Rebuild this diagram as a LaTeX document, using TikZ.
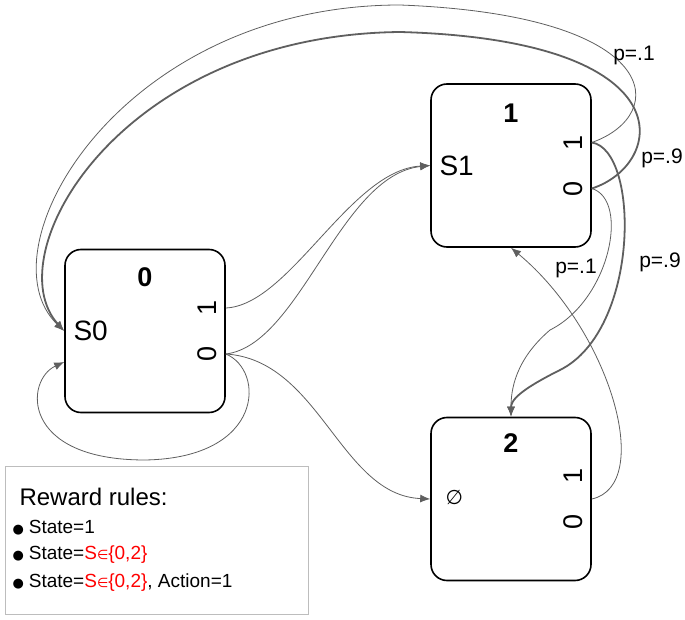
\documentclass[tikz,border=0pt]{standalone}
\usepackage{fontspec}
\setmainfont{Liberation Sans}
\newfontfamily\symfont{DejaVu Sans}
\usetikzlibrary{positioning,arrows.meta}
\definecolor{edgeGray}{HTML}{5F5F5F}
\definecolor{boxGray}{HTML}{BDBDBD}
\tikzset{
  statebox/.style={draw, line width=1.6pt, rounded corners=16pt,
                   minimum width=160pt, minimum height=163pt},
  stnum/.style={font=\fontsize{27}{30}\selectfont\bfseries},
  stname/.style={font=\fontsize{28}{30}\selectfont},
  portlbl/.style={rotate=90, font=\fontsize{27}{30}\selectfont},
  plbl/.style={font=\fontsize{21}{23}\selectfont},
  rule/.style={anchor=west, font=\fontsize{19}{21}\selectfont},
  trans/.style={edgeGray, line width=0.8pt, -{Latex[length=10pt,width=8pt]}},
  transthick/.style={trans, line width=1.8pt},
}
\newcommand{\memb}{{\symfont\fontsize{13}{15}\selectfont ∈}}
\newcommand{\rbul}{{\symfont\fontsize{13}{15}\selectfont ●}\hspace{5pt}}
\begin{document}
\begin{tikzpicture}[x=1pt, y=-1pt]
\useasboundingbox (0,0) rectangle (685,620);
%% States
\node[statebox] (b0) at (145,331) {};
\node[statebox] (b1) at (511,165.5) {};
\node[statebox] (b2) at (511,499) {};
\node[stnum] at (145,277) {0};
\node[stnum] at (511,113) {1};
\node[stnum] at (511,443) {2};
\node[stname, anchor=west] (s0) at (70,331) {S0};
\node[stname, anchor=west] (s1) at (436,166) {S1};
\node[stname, anchor=west] at (442,497) {{\symfont\fontsize{20}{22}\selectfont ∅}};
%% Ports
\foreach \b in {b0,b1,b2}{
  \coordinate (\b p1) at ([yshift=23pt]\b.east);
  \coordinate (\b p0) at ([yshift=-23pt]\b.east);
  \node[portlbl] at ([xshift=-19pt]\b p1) {1};
  \node[portlbl] at ([xshift=-19pt]\b p0) {0};
}
\coordinate (b0loop) at ([yshift=-31pt]b0.west);
%% Transitions
\draw[trans] (b0p1) .. controls (290,305) and (350,170) .. (b1.west);
\draw[trans] (b0p0) .. controls (300,345) and (340,175) .. (b1.west);
\draw[trans] (b0p0) .. controls (265,370) and (265,458) .. (145,460)
             .. controls (20,460) and (25,380) .. (b0loop);
\draw[trans] (b0p0) .. controls (320,360) and (340,495) .. (b2.west);
\draw[trans] (b1p1) .. controls (670,115) and (665,15) .. (400,5)
             .. controls (120,5) and (-20,250) .. (b0.west);
\draw[transthick] (b1p0) .. controls (665,165) and (690,40) .. (400,32)
             .. controls (120,35) and (-5,255) .. (b0.west);
\draw[transthick] (b1p1) .. controls (640,150) and (640,330) .. (560,370)
             .. controls (520,390) and (511,400) .. (b2.north);
\draw[trans] (b1p0) .. controls (630,200) and (610,300) .. (550,330)
             .. controls (515,360) and (511,390) .. (b2.north);
\draw[trans] (b2.east) .. controls (655,485) and (610,330) .. (b1.south);
\node[plbl] at (634,55) {p=.1};
\node[plbl] at (662,158) {p=.9};
\node[plbl] at (576,268) {p=.1};
\node[plbl] at (660,262) {p=.9};
%% Legend
\node[draw=boxGray, line width=0.8pt, anchor=north west, minimum width=303pt,
      minimum height=148pt, inner sep=0pt] (legend) at (5,466) {};
\node[anchor=west, font=\fontsize{24}{26}\selectfont] (rtitle) at (16,497) {Reward rules:};
\node[rule] (r1) at (9,528) {\rbul State=1};
\node[rule] (r2) at (9,555) {\rbul State=\textcolor{red}{S\memb\{0,2\}}};
\node[rule] (r3) at (9,583) {\rbul State=\textcolor{red}{S\memb\{0,2\}}, Action=1};
\end{tikzpicture}
\end{document}
